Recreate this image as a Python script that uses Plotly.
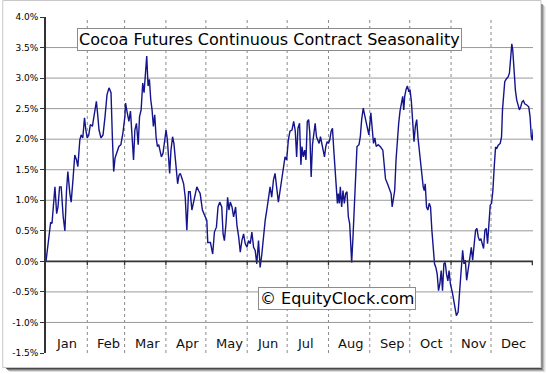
import plotly.graph_objects as go

# ---- data (day of year, seasonal % gain) ----
DAYS = [
    0.0, 1.0, 2.2, 3.5, 4.5, 5.5, 6.7, 8.0, 9.0, 10.2, 11.4, 12.9, 14.2, 15.4, 16.4, 17.9, 18.9, 20.4,
    21.6, 22.9, 23.9, 25.4, 26.4, 27.6, 28.9, 29.9, 30.9, 32.1, 33.3, 34.8, 36.3, 37.8, 38.8, 39.8,
    41.3, 42.8, 44.3, 45.8, 47.3, 48.8, 49.8, 50.8, 51.8, 53.2, 54.7, 56.2, 57.7, 59.2,
    59.7, 61.0, 62.2, 63.4, 64.7, 65.7, 66.7, 67.9, 69.2, 70.2, 71.4, 72.6, 73.6, 74.6, 75.6, 76.6,
    77.6, 78.6, 79.6, 80.6, 81.6, 82.6, 83.6, 84.6, 85.6, 86.6, 87.8, 89.1, 90.1, 91.1, 92.1, 92.8,
    93.8, 95.0, 96.0, 97.0, 98.0, 98.8, 99.8, 100.8, 102.0, 103.3, 104.5, 105.7, 107.0, 108.2, 109.5,
    110.7, 112.0, 113.2, 114.5, 115.7, 117.4, 119.4, 120.7, 121.4,
    122.2, 123.4, 125.1, 126.4, 127.9, 129.1, 130.4, 131.9, 132.9, 133.9, 135.1, 136.3, 137.3, 138.3,
    139.6, 140.8, 142.3, 143.3, 144.6, 145.8, 147.0, 148.3, 149.5, 150.8, 152.0, 153.3, 154.5, 155.8,
    157.0, 158.2, 159.5, 160.7, 162.0, 163.2, 164.5, 165.7, 166.9, 168.2, 169.4, 170.7, 171.9, 173.2,
    174.4, 175.7, 176.9, 178.1, 179.4, 180.6, 181.9, 183.1,
    184.6, 185.9, 187.1, 188.1, 189.1, 190.3, 191.3, 192.1, 193.1, 194.1, 195.1, 196.1, 197.1, 198.0,
    199.0, 200.0, 201.0, 202.0, 203.0, 204.0, 205.0, 206.0, 207.0, 208.0, 209.0, 210.0, 211.0, 212.0,
    213.0, 214.0, 215.0, 216.0, 217.0, 218.0, 218.7, 219.4, 220.2, 220.9, 221.9, 222.9, 223.9, 224.9,
    225.9, 226.9, 227.9, 228.7, 229.4, 230.4, 231.4, 232.4, 233.4, 234.9, 235.9, 236.9, 238.1, 239.4,
    240.8, 242.3, 243.8,
    244.6, 245.8, 246.8, 247.8, 249.3, 250.8, 252.8, 253.8, 254.8, 256.3, 257.8, 259.0, 259.8, 260.7,
    261.7, 262.7, 263.7, 264.7, 265.7, 266.7, 267.7, 268.5, 269.2, 270.2, 271.2, 272.2, 273.2, 274.2,
    275.2, 276.2, 277.2, 278.2, 279.2, 280.1, 281.1, 282.1, 283.1, 283.9, 284.6, 285.6, 286.6, 287.6,
    288.6, 289.6, 290.6, 291.6, 292.6, 293.6, 294.6, 295.6, 296.6, 297.6, 298.6, 299.6, 300.6, 301.6,
    302.5, 303.5, 305.0,
    306.8, 308.0, 309.3, 310.5, 311.3, 312.7, 313.7, 314.7, 315.7, 317.0, 318.2, 319.2, 320.2, 321.2,
    322.4, 323.4, 324.4, 325.4, 326.4, 327.4, 328.4, 329.4, 330.4, 331.4, 332.4, 333.4, 334.4, 335.4,
    336.4, 337.4, 338.4, 339.4, 340.9, 341.9, 342.6, 343.4, 344.3, 345.6, 346.8, 347.8, 348.8, 349.6,
    350.3, 351.3, 352.3, 353.3, 354.3, 355.3, 356.3, 357.3, 358.3, 359.3, 360.8, 362.3, 363.3, 364.2,
    365.0, 365.7,
]
VALUES = [
    0.00, 0.18, 0.31, 0.64, 0.62, 0.89, 1.22, 0.78, 0.89, 1.22, 1.22, 0.73, 0.50, 1.16, 1.47, 1.11, 0.97, 1.38,
    1.74, 1.66, 1.55, 1.99, 2.07, 2.02, 2.35, 2.15, 2.02, 2.07, 2.24, 2.21, 2.40, 2.62, 2.40, 2.15,
    2.02, 2.07, 2.37, 2.73, 2.84, 2.76, 2.04, 1.47, 1.69, 1.77, 1.88, 1.91, 2.10, 2.37,
    2.59, 2.43, 2.29, 2.46, 2.07, 1.66, 2.15, 2.26, 1.91, 2.37, 2.48, 2.92, 2.76, 3.09, 3.36, 2.87,
    2.98, 2.65, 2.48, 2.21, 2.40, 2.04, 1.88, 1.91, 1.82, 1.71, 1.77, 1.99, 2.15, 1.99, 1.60, 1.44,
    1.82, 2.04, 1.93, 1.71, 1.49, 1.27, 1.41, 1.44, 1.36, 1.27, 1.05, 0.51, 1.14, 1.14, 0.84,
    0.97, 1.05, 1.22, 1.16, 1.11, 0.84, 0.73, 0.67, 0.31,
    0.31, 0.31, 0.12, 0.48, 0.56, 0.89, 0.97, 0.89, 0.45, 0.34, 0.62, 1.05, 0.84, 0.97,
    0.89, 0.73, 0.89, 0.59, 0.40, 0.15, 0.34, 0.45, 0.29, 0.23, 0.34, 0.29, 0.48, 0.23,
    0.18, -0.04, 0.34, -0.10, 0.12, 0.40, 0.67, 0.84, 1.00, 1.22, 1.05, 1.33, 1.44, 1.22,
    0.97, 1.16, 1.33, 1.47, 1.71, 1.66, 1.99, 2.13,
    2.15, 2.29, 2.13, 1.71, 2.18, 2.26, 1.58, 1.88, 1.71, 1.82, 1.66, 2.29, 2.32, 2.10,
    1.38, 1.91, 2.15, 2.26, 2.04, 1.99, 1.93, 2.04, 1.93, 1.77, 1.71, 1.88, 1.96, 1.93,
    1.99, 2.13, 2.18, 1.82, 1.44, 1.16, 0.95, 1.11, 0.95, 1.22, 0.89, 1.16, 0.95, 1.11,
    1.14, 0.73, 0.62, 0.29, -0.02, 0.40, 0.89, 1.44, 1.88, 1.91, 2.04, 2.32, 2.51, 2.37,
    2.24, 2.07, 2.43,
    2.21, 1.93, 2.02, 1.88, 1.91, 1.88, 1.82, 1.60, 1.35, 1.27, 1.19, 1.11, 0.89, 1.05,
    1.16, 1.66, 1.99, 2.26, 2.46, 2.62, 2.70, 2.48, 2.70, 2.81, 2.87, 2.79, 2.81, 2.62,
    2.26, 1.96, 2.21, 2.32, 2.02, 1.82, 1.60, 1.38, 1.22, 1.16, 1.27, 0.89, 0.84, 0.95,
    0.89, 0.51, 0.23, -0.04, -0.10, -0.21, -0.48, -0.37, -0.15, -0.48, -0.04, -0.02, -0.21, -0.32,
    -0.15, -0.37, -0.51,
    -0.75, -0.89, -0.83, -0.42, -0.15, 0.18, -0.04, 0.02, -0.31, -0.09, 0.07, 0.23, 0.02, 0.29,
    0.51, 0.54, 0.40, 0.34, 0.37, 0.29, 0.21, 0.51, 0.54, 0.29, 0.56, 0.92, 0.95, 1.16,
    1.55, 1.87, 1.85, 1.90, 1.93, 2.04, 2.48, 2.69, 2.94, 2.99, 3.02, 3.08, 3.35, 3.56,
    3.46, 3.02, 2.80, 2.64, 2.53, 2.48, 2.53, 2.61, 2.63, 2.58, 2.56, 2.53, 2.37, 2.04,
    1.98, 2.17,
]
assert len(DAYS) == len(VALUES), (len(DAYS), len(VALUES))

MONTHS = ["Jan", "Feb", "Mar", "Apr", "May", "Jun", "Jul", "Aug", "Sep", "Oct", "Nov", "Dec"]
MONTH_STARTS = [0, 31, 59, 90, 120, 151, 181, 212, 243, 273, 304, 334]
YEAR_END = 365
Y_TICKS = [-1.5, -1.0, -0.5, 0.0, 0.5, 1.0, 1.5, 2.0, 2.5, 3.0, 3.5, 4.0]
GRID_LEVELS = [-1.0, -0.5, 0.5, 1.0, 1.5, 2.0, 2.5, 3.0, 3.5]
TITLE = "Cocoa Futures Continuous Contract Seasonality"
WATERMARK = "© EquityClock.com"

W, H = 547, 374
ML, MR, MT, MB = 44, 13.5, 17, 21
PW, PH = W - ML - MR, H - MT - MB
XMAX = 365.5

def px(x):
    return (x - ML) / PW

def py(y):
    return (H - MB - y) / PH

FONT = "DejaVu Sans, Verdana, sans-serif"

fig = go.Figure()
fig.add_trace(go.Scatter(x=DAYS, y=VALUES, mode="lines",
                         line=dict(color="#14148c", width=1.4), hoverinfo="skip"))

shapes = []
# horizontal grid
for g in GRID_LEVELS:
    shapes.append(dict(type="line", xref="x", yref="y", x0=0, x1=XMAX, y0=g, y1=g,
                       line=dict(color="#9a9a9a", width=1), layer="below"))
# vertical month separators (dotted)
for m in MONTH_STARTS[1:]:
    shapes.append(dict(type="line", xref="x", yref="paper", x0=m, x1=m, y0=0, y1=1,
                       line=dict(color="#8a8a8a", width=1, dash="dot"), layer="below"))
# zero axis line
shapes.append(dict(type="line", xref="x", yref="y", x0=0, x1=XMAX, y0=0, y1=0,
                   line=dict(color="#333333", width=1.6)))
# month ticks on zero line
for m in MONTH_STARTS[1:] + [YEAR_END]:
    shapes.append(dict(type="line", xref="x", yref="y", ysizemode="pixel", yanchor=0,
                       x0=m, x1=m, y0=0, y1=-4, line=dict(color="#333333", width=1.3)))
# outer frame and shadow
shapes.append(dict(type="rect", xref="paper", yref="paper",
                   x0=px(0.5), x1=px(541.5), y0=py(0.5), y1=py(367.5),
                   line=dict(color="#c8c8c8", width=1)))
for i, col in enumerate(["#4a4a4a", "#7a7a7a", "#b0b0b0", "#dcdcdc"]):
    shapes.append(dict(type="line", xref="paper", yref="paper",
                       x0=px(542.5 + i), x1=px(542.5 + i), y0=py(4 + i), y1=py(368.5 + i),
                       line=dict(color=col, width=1)))
    shapes.append(dict(type="line", xref="paper", yref="paper",
                       x0=px(4 + i), x1=px(542.5 + i), y0=py(368.5 + i), y1=py(368.5 + i),
                       line=dict(color=col, width=1)))

annotations = []
for name, start in zip(MONTHS, MONTH_STARTS):
    annotations.append(dict(x=start, y=-1.5, xref="x", yref="y", text=name, showarrow=False,
                            xanchor="left", yanchor="bottom", xshift=8, yshift=0,
                            font=dict(family=FONT, size=13, color="#111111")))
annotations.append(dict(x=px(268.5), y=py(40), xref="paper", yref="paper", text=TITLE,
                        showarrow=False, xanchor="center", yanchor="middle",
                        font=dict(family=FONT, size=16, color="#000000"),
                        bgcolor="white", bordercolor="#8c8c8c", borderwidth=1, borderpad=1))
annotations.append(dict(x=px(336.8), y=py(298.3), xref="paper", yref="paper", text=WATERMARK,
                        showarrow=False, xanchor="center", yanchor="middle",
                        font=dict(family=FONT, size=16, color="#000000"),
                        bgcolor="white", bordercolor="#8c8c8c", borderwidth=1, borderpad=1))

fig.update_layout(
    width=W, height=H,
    margin=dict(l=ML, r=MR, t=MT, b=MB, pad=0),
    paper_bgcolor="white", plot_bgcolor="white",
    showlegend=False,
    shapes=shapes, annotations=annotations,
    xaxis=dict(range=[0, XMAX], showgrid=False, zeroline=False, showline=False,
               showticklabels=False, ticks="", fixedrange=True),
    yaxis=dict(range=[-1.5, 4.0], tickvals=Y_TICKS, ticktext=[f"{v:.1f}%" for v in Y_TICKS],
               showgrid=False, zeroline=False, showline=True, linecolor="#333333", linewidth=1.6,
               ticks="outside", ticklen=4, tickcolor="#333333", tickwidth=1.3,
               tickfont=dict(family=FONT, size=9, color="#000000"), fixedrange=True),
)

fig.write_html("out.html", config={"displayModeBar": False},
               post_script="document.body.style.margin='0px';document.body.style.overflow='hidden';")
